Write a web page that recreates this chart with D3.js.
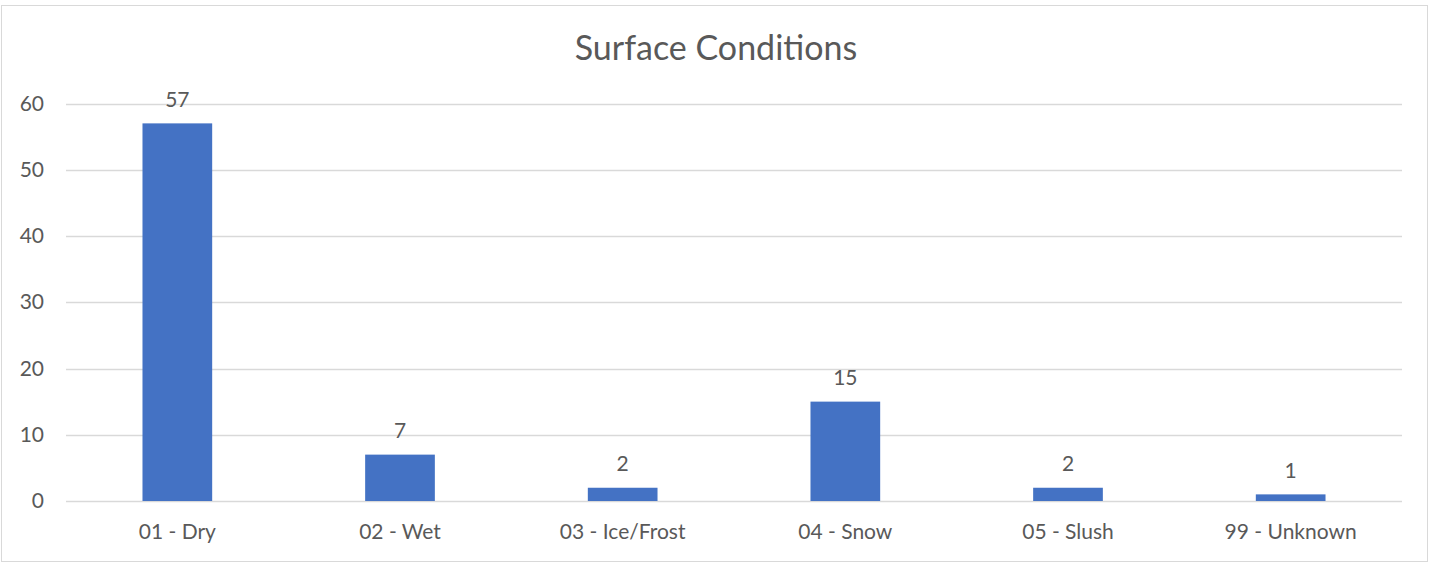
<!doctype html>
<html lang="en">
<head>
  <meta charset="utf-8">
  <title>Surface Conditions</title>
  <script src="https://d3js.org/d3.v7.min.js"></script>
  <style>
    body { margin: 0; background: #fff; }
    text { font-family: Lato, "Open Sans", sans-serif; fill: #595959; }
  </style>
</head>
<body>
<svg id="chart" width="1430" height="564"></svg>
<script>
// data
var categories = ["01 - Dry", "02 - Wet", "03 - Ice/Frost", "04 - Snow", "05 - Slush", "99 - Unknown"];
var counts = [57, 7, 2, 15, 2, 1];
var yTicks = [0, 10, 20, 30, 40, 50, 60];

var svg = d3.select("#chart"),
  width = +svg.attr("width"),
  height = +svg.attr("height");

// outer chart border
svg.append("rect")
  .attr("x", 1.5).attr("y", 5.5)
  .attr("width", 1426).attr("height", 556)
  .attr("fill", "#fff")
  .attr("stroke", "#d9d9d9");

var margin = {left: 66, right: 28, top: 103.5, bottom: 63};

var x = d3.scaleBand()
  .domain(categories)
  .range([margin.left, width - margin.right])
  .paddingInner(0.687)
  .paddingOuter(0.3435);

var y = d3.scaleLinear()
  .domain([0, 60])
  .range([height - margin.bottom, margin.top]);

// title
svg.append("text")
  .attr("x", 716).attr("y", 60)
  .attr("text-anchor", "middle")
  .style("font-size", "34px")
  .text("Surface Conditions");

// gridlines
svg.append("g")
  .selectAll("line")
  .data(yTicks)
  .enter()
  .append("line")
    .attr("x1", margin.left)
    .attr("x2", width - margin.right)
    .attr("y1", function(d) { return Math.round(y(d)) + 0.5; })
    .attr("y2", function(d) { return Math.round(y(d)) + 0.5; })
    .attr("stroke", "#d9d9d9")
    .attr("stroke-width", 1.3);

// y axis labels
var yAxis = d3.axisLeft(y).tickValues(yTicks).tickSize(0).tickPadding(0);
var gy = svg.append("g")
  .attr("transform", "translate(44,0)")
  .call(yAxis);
gy.select(".domain").remove();
gy.selectAll("text")
  .style("font-size", "21px")
  .style("fill", "#595959")
  .style("font-family", "Lato, 'Open Sans', sans-serif");

// bars
svg.append("g")
  .selectAll("rect")
  .data(counts)
  .enter()
  .append("rect")
    .attr("x", function(d, i) { return x(categories[i]); })
    .attr("width", x.bandwidth())
    .attr("y", function(d) { return y(d); })
    .attr("height", function(d) { return y(0) - y(d); })
    .attr("fill", "#4472c4");

// data labels
svg.append("g")
  .selectAll("text")
  .data(counts)
  .enter()
  .append("text")
    .attr("x", function(d, i) { return x(categories[i]) + x.bandwidth() / 2; })
    .attr("y", function(d) { return y(d) - 16.5; })
    .attr("text-anchor", "middle")
    .style("font-size", "21px")
    .text(function(d) { return d; });

// x axis labels
var xAxis = d3.axisBottom(x).tickSize(0).tickPadding(0);
var gx = svg.append("g")
  .attr("transform", "translate(0," + (y(0) + 23) + ")")
  .call(xAxis);
gx.select(".domain").remove();
gx.selectAll("text")
  .style("font-size", "21px")
  .style("fill", "#595959")
  .style("font-family", "Lato, 'Open Sans', sans-serif");
</script>
</body>
</html>
